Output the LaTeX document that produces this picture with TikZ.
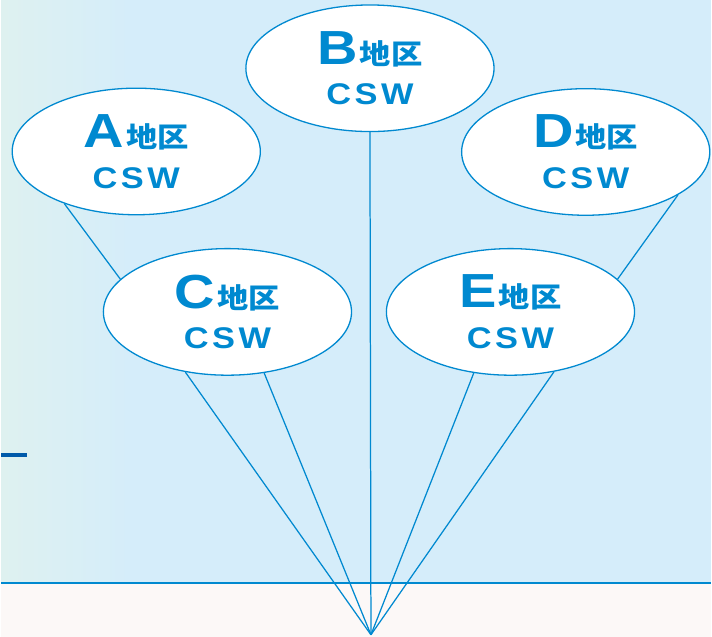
\documentclass[tikz,border=0pt]{standalone}
\usepackage{fontspec}
\usepackage{graphicx}
\usepackage{xcolor}
\usepackage{tikz}
\usetikzlibrary{shapes,positioning}
\newfontfamily\latinfont{Liberation Sans}
\newfontfamily\cjkfont{Noto Sans CJK JP}
\definecolor{cswblue}{RGB}{0,137,208}
\definecolor{skybg}{RGB}{213,237,250}
\definecolor{glow}{RGB}{222,241,240}
\definecolor{floorbg}{RGB}{252,248,247}
\definecolor{markblue}{RGB}{0,90,170}
\newcommand{\areaname}[1]{%
  \scalebox{1.17}[1]{\latinfont\bfseries\fontsize{48}{48}\selectfont #1}\hspace{2pt}%
  \scalebox{1.12}[1]{\cjkfont\bfseries\fontsize{28}{28}\selectfont 地区}\\
  \scalebox{1.15}[1]{\latinfont\bfseries\fontsize{30}{30}\selectfont C\hspace{3pt}S\hspace{3pt}W}}
\tikzset{
  cswnode/.style = {ellipse, draw=cswblue, line width=1.3pt, fill=white,
    minimum width=249pt, minimum height=127pt, inner sep=0pt, align=center,
    text=cswblue, font=\fontsize{28}{41}\selectfont},
  cswedge/.style = {cswblue, line width=1.25pt},
}
\begin{document}
\begin{tikzpicture}[x=1pt,y=-1pt]
      % background
      \fill[skybg] (0,0) rectangle (712,585);
      \shade[left color=glow, right color=skybg] (0,0) rectangle (130,585);
      \fill[floorbg] (0,585) rectangle (712,639);
      \draw[cswblue, line width=2.5pt] (0,585) -- (712,585);
      \fill[markblue] (0,455) rectangle (26,459);

      \node[cswnode] (A) at (135.5,152) {\areaname{A}};
      \node[cswnode] (B) at (370,68.5) {\areaname{B}};
      \node[cswnode] (C) at (227,313) {\areaname{C}};
      \node[cswnode] (D) at (586.5,152.5) {\areaname{D}};
      \node[cswnode] (E) at (511,313) {\areaname{E}};
      \coordinate (base) at (371,637);

      \draw[cswedge] (base) -- (B.south);
      \draw[cswedge] (base) -- (C.235);
      \draw[cswedge] (base) -- (C.301);
      \draw[cswedge] (base) -- (E.239);
      \draw[cswedge] (base) -- (E.306);
      \draw[cswedge] (A.216) -- (C.163);
      \draw[cswedge] (D.335) -- (E.17);
      \end{tikzpicture}
\end{document}
